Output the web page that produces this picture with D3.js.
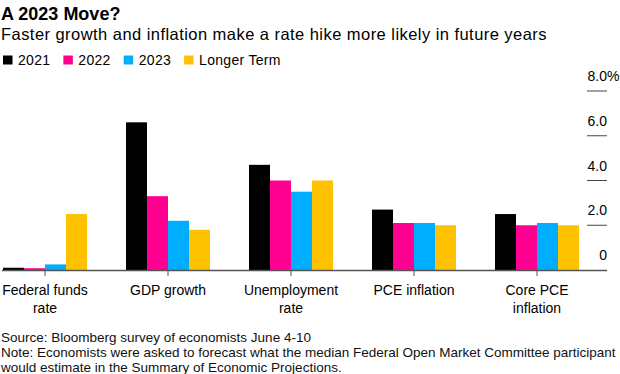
<!DOCTYPE html>
<html>
<head>
<meta charset="utf-8">
<script src="https://cdn.jsdelivr.net/npm/d3@7"></script>
<style>
    body { margin: 0; background: #fff; }
    svg { display: block; font-family: "Liberation Sans", Arial, sans-serif; }
</style>
</head>
<body>
<svg id="drawing_region"></svg>
<script>
const categories = ["Federal funds rate", "GDP growth", "Unemployment rate", "PCE inflation", "Core PCE inflation"];
const categoryLines = [["Federal funds", "rate"], ["GDP growth"], ["Unemployment", "rate"], ["PCE inflation"], ["Core PCE", "inflation"]];
const seriesNames = ["2021", "2022", "2023", "Longer Term"];
const values2021 = [0.1, 6.6, 4.7, 2.7, 2.5];
const values2022 = [0.08, 3.3, 4.0, 2.1, 2.0];
const values2023 = [0.25, 2.2, 3.5, 2.1, 2.1];
const valuesLonger = [2.5, 1.8, 4.0, 2.0, 2.0];
const yTicks = [0, 2, 4, 6, 8];
const colors = ["#000000", "#ff0090", "#00adff", "#ffc200"];

const seriesValues = [values2021, values2022, values2023, valuesLonger];
const data = categories.map((c, i) => ({
    category: c,
    values: seriesNames.map((s, j) => ({ key: s, value: seriesValues[j][i] }))
}));

const width = 620, height = 374;
const svg = d3.select('#drawing_region')
    .attr('width', width)
    .attr('height', height);

// title block
svg.append('text')
    .attr('x', 1).attr('y', 19.5)
    .style('font-size', '18px').style('font-weight', 'bold')
    .text('A 2023 Move?');

svg.append('text')
    .attr('x', 1).attr('y', 40)
    .style('font-size', '16.5px')
    .style('letter-spacing', '0.45px')
    .text('Faster growth and inflation make a rate hike more likely in future years');

// legend
const legend = svg.append('g').attr('transform', 'translate(3, 0)');
let lx = 0;
seriesNames.forEach((s, i) => {
    const item = legend.append('g').attr('transform', `translate(${lx}, 0)`);
    item.append('rect')
        .attr('x', 0).attr('y', 55.5)
        .attr('width', 9.5).attr('height', 9)
        .attr('fill', colors[i]);
    const t = item.append('text')
        .attr('x', 15).attr('y', 64.5)
        .style('font-size', '14px')
        .style('letter-spacing', '0.3px')
        .text(s);
    lx += 15 + t.node().getComputedTextLength() + 13;
});

// scales
const xscale = d3.scaleBand()
    .domain(categories)
    .range([3, 579])
    .paddingInner(39 / 123)
    .paddingOuter(0);

const xsub = d3.scaleBand()
    .domain(seriesNames)
    .range([0, xscale.bandwidth()]);

const yscale = d3.scaleLinear()
    .domain([0, 8])
    .range([270, 91]);

const color = d3.scaleOrdinal().domain(seriesNames).range(colors);

// y axis on the right: short tick lines with labels above
const yaxis = svg.append('g');
yaxis.selectAll('line')
    .data(yTicks.filter(d => d > 0))
    .join('line')
    .attr('x1', 587).attr('x2', 607)
    .attr('y1', d => yscale(d)).attr('y2', d => yscale(d))
    .attr('stroke', '#444')
    .attr('stroke-width', 1);

yaxis.selectAll('text')
    .data(yTicks)
    .join('text')
    .attr('x', 607)
    .attr('y', d => yscale(d) - 10)
    .attr('text-anchor', 'end')
    .style('font-size', '14px')
    .text(d => d === 0 ? '0' : d.toFixed(1));

yaxis.append('text')
    .attr('x', 607)
    .attr('y', yscale(8) - 10)
    .style('font-size', '14px')
    .text('%');

// bars
const groups = svg.append('g').selectAll('g')
    .data(data)
    .join('g')
    .attr('transform', d => `translate(${xscale(d.category)}, 0)`);

groups.selectAll('rect')
    .data(d => d.values)
    .join('rect')
    .attr('x', d => xsub(d.key))
    .attr('y', d => yscale(d.value))
    .attr('width', xsub.bandwidth())
    .attr('height', d => yscale(0) - yscale(d.value))
    .attr('fill', d => color(d.key));

// baseline with ticks
const xaxis = svg.append('g');
xaxis.append('line')
    .attr('x1', 2).attr('x2', 607)
    .attr('y1', yscale(0) + 0.5).attr('y2', yscale(0) + 0.5)
    .attr('stroke', '#555').attr('stroke-width', 1.5);

xaxis.selectAll('.tick')
    .data(categories)
    .join('line')
    .attr('class', 'tick')
    .attr('x1', d => xscale(d) + xscale.bandwidth() / 2)
    .attr('x2', d => xscale(d) + xscale.bandwidth() / 2)
    .attr('y1', yscale(0)).attr('y2', yscale(0) + 6)
    .attr('stroke', '#555').attr('stroke-width', 1);

const labels = xaxis.selectAll('.label')
    .data(categories)
    .join('text')
    .attr('class', 'label')
    .attr('text-anchor', 'middle')
    .style('font-size', '14px');

labels.selectAll('tspan')
    .data((d, i) => categoryLines[i].map(l => ({ line: l, x: xscale(d) + xscale.bandwidth() / 2 })))
    .join('tspan')
    .attr('x', d => d.x)
    .attr('y', (d, i) => 295 + i * 17.5)
    .text(d => d.line);

// footer
const footer = [
    'Source: Bloomberg survey of economists June 4-10',
    'Note: Economists were asked to forecast what the median Federal Open Market Committee participant',
    'would estimate in the Summary of Economic Projections.'
];
svg.append('g').selectAll('text')
    .data(footer)
    .join('text')
    .attr('x', 1)
    .attr('y', (d, i) => 342 + i * 15)
    .style('font-size', '13.5px')
    .style('fill', '#111')
    .text(d => d);
</script>
</body>
</html>
